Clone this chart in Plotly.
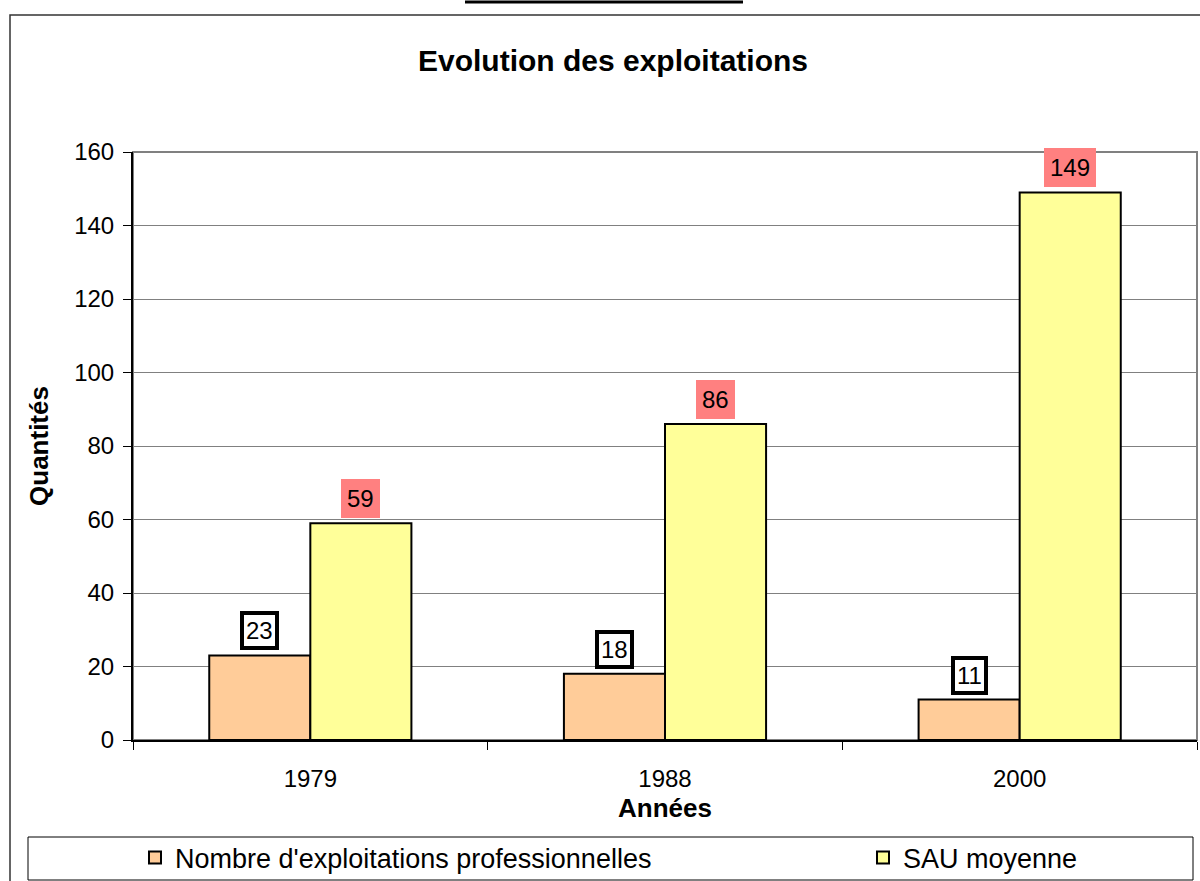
import plotly.graph_objects as go

# ---- data ----
years = ["1979", "1988", "2000"]
nb_exploitations = [23, 18, 11]
sau_moyenne = [59, 86, 149]
series_names = ["Nombre d'exploitations professionnelles", "SAU moyenne"]
y_ticks = [0, 20, 40, 60, 80, 100, 120, 140, 160]

FONT = "Liberation Sans, Arial, sans-serif"
W, H = 1200, 881
ML, MR, MT, MB = 133, 3, 152, 141
PW = W - ML - MR
PH = H - MT - MB
BARGAP = 0.43


def px_x(px):
    return (px - ML) / PW


def px_y(py):
    return (H - MB - py) / PH


fig = go.Figure()
fig.add_trace(go.Bar(
    name=series_names[0], x=years, y=nb_exploitations, legend="legend",
    marker=dict(color="#FFCC99", line=dict(color="black", width=2)),
))
fig.add_trace(go.Bar(
    name=series_names[1], x=years, y=sau_moyenne, legend="legend2",
    marker=dict(color="#FFFF99", line=dict(color="black", width=2)),
))

# data labels
half = (1 - BARGAP) / 4
for i, v in enumerate(nb_exploitations):
    fig.add_annotation(
        x=i - half, y=v, xref="x", yref="y", text=str(v), showarrow=False,
        yanchor="bottom", yshift=5, font=dict(family=FONT, size=24, color="black"),
        bgcolor="white", bordercolor="black", borderwidth=4, borderpad=2,
    )
for i, v in enumerate(sau_moyenne):
    fig.add_annotation(
        x=i + half, y=v, xref="x", yref="y", text=str(v), showarrow=False,
        yanchor="bottom", yshift=5, font=dict(family=FONT, size=24, color="black"),
        bgcolor="#FF8080", borderwidth=0, borderpad=6,
    )

shapes = [
    # plot area border (gray)
    dict(type="rect", xref="paper", yref="paper", x0=0, x1=1, y0=0, y1=1,
         line=dict(color="#808080", width=2), layer="below"),
    # outer chart frame
    dict(type="rect", xref="paper", yref="paper", x0=px_x(10), x1=px_x(1210),
         y0=px_y(895), y1=px_y(15), line=dict(color="#333333", width=1.5)),
    # legend frame
    dict(type="rect", xref="paper", yref="paper", x0=px_x(28), x1=px_x(1193),
         y0=px_y(880), y1=px_y(837), line=dict(color="black", width=1)),
    # fragment of a line above the chart
    dict(type="line", xref="paper", yref="paper", x0=px_x(465), x1=px_x(743),
         y0=px_y(2), y1=px_y(2), line=dict(color="black", width=3)),
]

legend_common = dict(
    orientation="h", xanchor="left", yref="container", y=1 - 858 / H, yanchor="middle",
    font=dict(family=FONT, size=27, color="black"), bgcolor="rgba(0,0,0,0)",
    borderwidth=0, itemwidth=30,
)

fig.update_layout(
    width=W, height=H,
    margin=dict(l=ML, r=MR, t=MT, b=MB, pad=0, autoexpand=False),
    paper_bgcolor="white", plot_bgcolor="white",
    barmode="group", bargap=BARGAP, bargroupgap=0,
    font=dict(family=FONT, size=24, color="black"),
    title=dict(text="<b>Evolution des exploitations</b>", x=613 / W, xanchor="center",
               y=1 - 60 / H, yanchor="middle", font=dict(family=FONT, size=30, color="black")),
    xaxis=dict(
        type="category", showline=True, linecolor="black", linewidth=2,
        ticks="outside", tickson="boundaries", ticklen=8, tickcolor="black", tickwidth=1,
        tickfont=dict(size=24), showgrid=False, ticklabelstandoff=16, automargin=False,
        title=dict(text="<b>Années</b>", font=dict(size=26), standoff=8),
    ),
    yaxis=dict(
        range=[0, 160], tickvals=y_ticks, showline=True, linecolor="black", linewidth=2,
        ticks="outside", ticklen=8, tickcolor="black", tickwidth=1,
        showgrid=True, gridcolor="#808080", gridwidth=1, zeroline=False,
        tickfont=dict(size=24), ticklabelstandoff=4, automargin=False,
        title=dict(text="<b>Quantités</b>", font=dict(size=26), standoff=18),
    ),
    legend=dict(x=px_x(135), **legend_common),
    legend2=dict(x=px_x(863), **legend_common),
    shapes=shapes,
    showlegend=True,
)

fig.write_html("out.html", config={"displayModeBar": False},
               post_script="document.body.style.margin='0';")
